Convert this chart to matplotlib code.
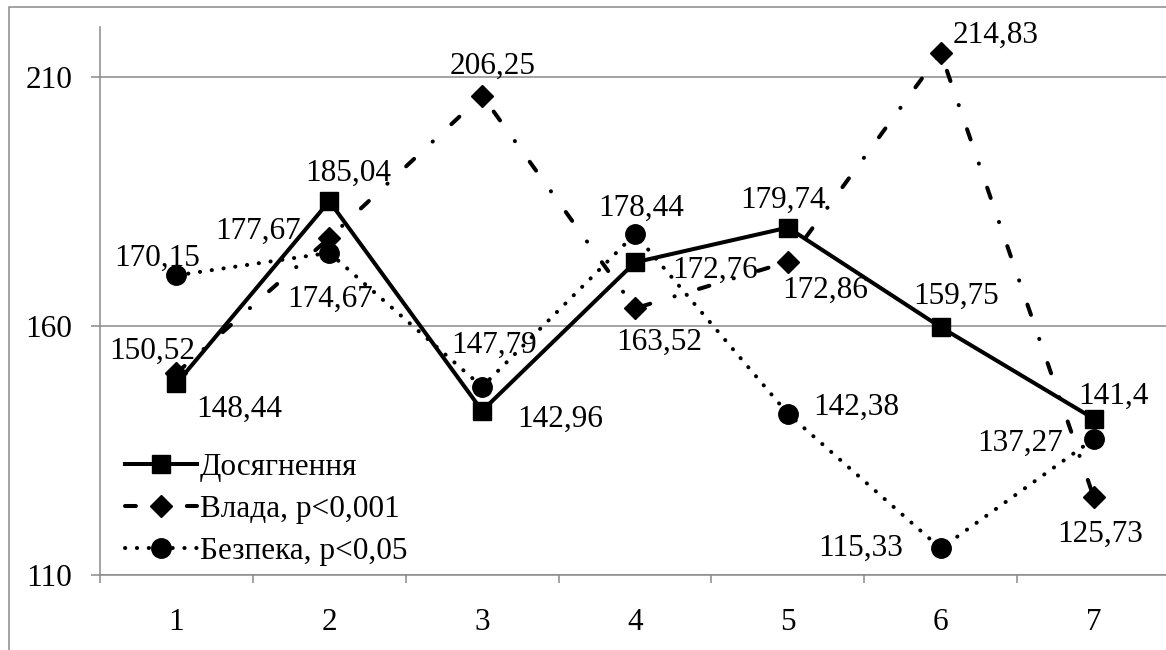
import matplotlib
matplotlib.use('Agg')
import matplotlib.pyplot as plt
from matplotlib.patches import Rectangle

# ---- data ----
categories = [1, 2, 3, 4, 5, 6, 7]
dosyahnennia = [148.44, 185.04, 142.96, 172.76, 179.74, 159.75, 141.4]
vlada = [150.52, 177.67, 206.25, 163.52, 172.86, 214.83, 125.73]
bezpeka = [170.15, 174.67, 147.79, 178.44, 142.38, 115.33, 137.27]
series_names = ['Досягнення', 'Влада, p<0,001', 'Безпека, p<0,05']
y_ticks = [110, 160, 210]

# ---- label offsets (pixels; +x right, +y up) ----
off_a = [(63, -23), (19, 31), (78, -6), (80, -5), (-5, 30), (15, 34), (20, 25)]
off_b = [(-24, 25), (-71, 10), (10, 32), (24, -31), (37, -25), (55, 20), (7, -35)]
off_c = [(-19, 20), (1, -44), (12, 44), (6, 29), (68, 9), (-80, 3), (-73, -1)]

W, H = 1166, 650
FS = 22.5
GRAY = '#8a8a8a'
plt.rcParams['font.family'] = ['Liberation Serif', 'DejaVu Serif']

fig = plt.figure(figsize=(W / 100, H / 100), dpi=100)
fig.patches.append(Rectangle((9 / W, -0.1), 2, 1 - 7 / H + 0.1, transform=fig.transFigure,
                             fill=False, ec=GRAY, lw=1.1))
ax = fig.add_axes([100 / W, 75 / H, 1070 / W, 548 / H])
ax.set_xlim(0.5, 7.5)
ax.set_ylim(110, 220)

lw = 2.9
ax.plot(categories, dosyahnennia, color='black', lw=lw, marker='s', ms=13.5,
        label=series_names[0], zorder=3)
ax.plot(categories, vlada, color='black', lw=lw, marker='D', ms=11.5,
        linestyle=(0, (2.7, 6.3, 0.05, 6.3)), dash_capstyle='round',
        label=series_names[1], zorder=3)
ax.plot(categories, bezpeka, color='black', lw=lw, marker='o', ms=14,
        linestyle=(0, (0.05, 2.9)), dash_capstyle='round',
        label=series_names[2], zorder=3)

def fmt(v):
    return f"{v:g}".replace('.', ',')

for vals, offs in ((dosyahnennia, off_a), (vlada, off_b), (bezpeka, off_c)):
    for x, v, (dx, dy) in zip(categories, vals, offs):
        ax.annotate(fmt(v), (x, v), xytext=(dx, dy - 10.5), textcoords='offset pixels',
                    ha='center', va='baseline', fontsize=FS, zorder=5)

# axes styling
for s in ('top', 'right'):
    ax.spines[s].set_visible(False)
for s in ('left', 'bottom'):
    ax.spines[s].set_color(GRAY)
    ax.spines[s].set_linewidth(1.1)

ax.set_yticks(y_ticks)
ax.set_yticklabels([str(t) for t in y_ticks])
ax.tick_params(axis='y', length=6.5, width=1.1, color=GRAY, pad=13.5, labelsize=FS)
ax.yaxis.grid(True, color=GRAY, lw=1.1)
ax.set_axisbelow(True)

ax.set_xticks([c - 0.5 for c in categories] + [categories[-1] + 0.5])
ax.set_xticklabels([])
ax.set_xticks(categories, minor=True)
ax.set_xticklabels([str(c) for c in categories], minor=True)
ax.tick_params(axis='x', which='major', length=6, width=1.1, color=GRAY)
ax.tick_params(axis='x', which='minor', length=0, pad=24, labelsize=FS)

leg = ax.legend(loc='upper left', bbox_to_anchor=(125 / W, 1 - 453 / H),
                bbox_transform=fig.transFigure, frameon=False, fontsize=FS,
                handlelength=2.3, handletextpad=0.1, labelspacing=0.42,
                borderpad=0, borderaxespad=0)

fig.savefig('out.png', dpi=100)
